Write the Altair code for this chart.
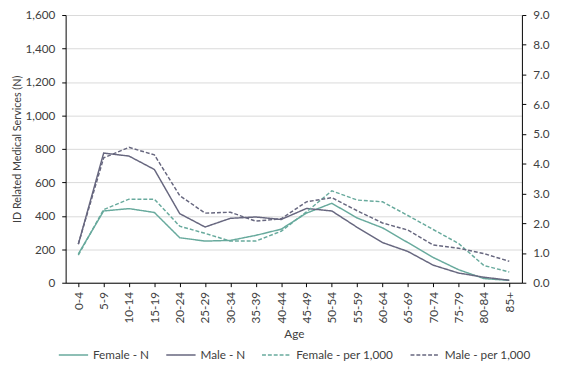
import altair as alt
import pandas as pd

ages = ["0-4", "5-9", "10-14", "15-19", "20-24", "25-29", "30-34", "35-39", "40-44",
        "45-49", "50-54", "55-59", "60-64", "65-69", "70-74", "75-79", "80-84", "85+"]
female_n = [172, 429, 443, 420, 269, 249, 253, 283, 320, 416, 475, 387, 328, 240, 151, 78, 25, 14]
male_n = [230, 775, 757, 677, 413, 333, 385, 393, 378, 444, 429, 331, 240, 187, 105, 58, 33, 15]
female_rate = [0.93, 2.46, 2.81, 2.81, 1.90, 1.66, 1.40, 1.40, 1.73, 2.38, 3.09, 2.78, 2.72, 2.26, 1.79, 1.32, 0.58, 0.36]
male_rate = [1.30, 4.20, 4.55, 4.30, 2.93, 2.34, 2.37, 2.07, 2.15, 2.72, 2.86, 2.42, 2.01, 1.77, 1.27, 1.16, 0.98, 0.72]

series_names = ["Female - N", "Male - N", "Female - per 1,000", "Male - per 1,000"]
colors = ["#68AA9D", "#67677F", "#68AA9D", "#67677F"]
dashes = [[1, 0], [1, 0], [4, 2], [4, 2]]

rows = []
for i, a in enumerate(ages):
    rows.append({"age": a, "series": series_names[0], "n": female_n[i]})
    rows.append({"age": a, "series": series_names[1], "n": male_n[i]})
    rows.append({"age": a, "series": series_names[2], "rate": female_rate[i]})
    rows.append({"age": a, "series": series_names[3], "rate": male_rate[i]})
df = pd.DataFrame(rows)

FONT = "Lato"
TXT = "#404040"

x_enc = alt.X("age:N", sort=ages, title="Age",
              scale=alt.Scale(type="point", padding=0.5),
              axis=alt.Axis(labelAngle=270, labelAlign="right", labelBaseline="middle",
                            labelPadding=5, tickSize=4, tickColor="#000", domainColor="#000",
                            titlePadding=6, grid=False))

color_enc = alt.Color("series:N", scale=alt.Scale(domain=series_names, range=colors),
                      legend=alt.Legend(title=None, orient="none", direction="horizontal",
                                        legendX=-8, legendY=332, symbolType="stroke",
                                        symbolSize=900, symbolStrokeWidth=1.5,
                                        columnPadding=14, labelOffset=4,
                                        labelFontSize=12, labelColor=TXT, labelFont=FONT))
dash_enc = alt.StrokeDash("series:N", scale=alt.Scale(domain=series_names, range=dashes),
                          legend=None)

left = alt.Chart(df).transform_filter("isValid(datum.n)").mark_line(strokeWidth=1.5).encode(
    x=x_enc,
    y=alt.Y("n:Q", title="ID Related Medical Services (N)",
            scale=alt.Scale(domain=[0, 1600], nice=False),
            axis=alt.Axis(values=list(range(0, 1601, 200)), format=",.0f", tickSize=4,
                          labelPadding=7, tickColor="#000", domainColor="#000",
                          gridColor="#d9d9d9", titlePadding=3, titleFontSize=11)),
    color=color_enc,
    strokeDash=dash_enc,
)

right = alt.Chart(df).transform_filter("isValid(datum.rate)").mark_line(strokeWidth=1.5).encode(
    x=x_enc,
    y=alt.Y("rate:Q", title=None,
            scale=alt.Scale(domain=[0, 9], nice=False),
            axis=alt.Axis(orient="right", values=list(range(0, 10)), format=".1f", tickSize=4,
                          labelPadding=7, tickColor="#000", domainColor="#000", grid=False)),
    color=color_enc,
    strokeDash=dash_enc,
)

chart = alt.layer(left, right).resolve_scale(y="independent").properties(
    width=467, height=274,
    autosize=alt.AutoSizeParams(type="none"),
    padding={"left": 59, "top": 3, "right": 40, "bottom": 80},
).configure_view(stroke=None).configure_axis(
    labelFont=FONT, titleFont=FONT, labelFontSize=12, titleFontSize=12,
    labelColor=TXT, titleColor=TXT, titleFontWeight="normal",
).configure_legend(labelFont=FONT)

chart.save("out.html", embed_options={"renderer": "svg", "actions": False})
